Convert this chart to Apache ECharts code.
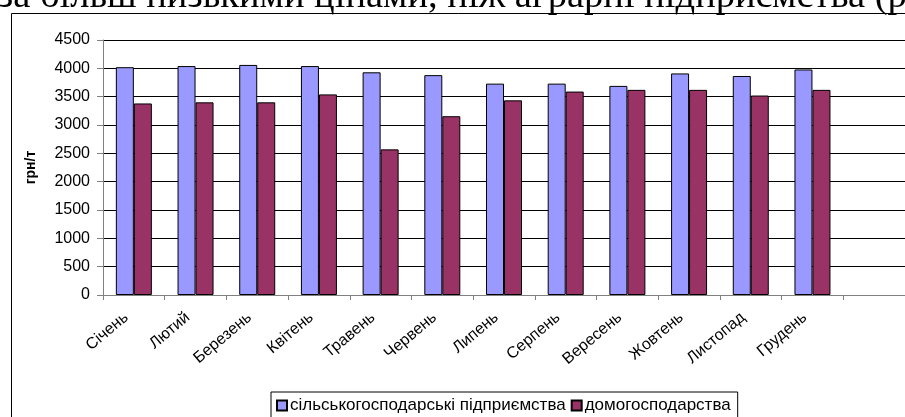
<!DOCTYPE html>
<html>
<head>
<meta charset="utf-8">
<script src="https://cdn.jsdelivr.net/npm/echarts@6/dist/echarts.min.js"></script>
<style>
  html, body { margin: 0; padding: 0; background: #fff; }
  #chart { width: 905px; height: 417px; }
</style>
</head>
<body>
<div id="chart"></div>
<script>
// Months (the trailing blank slot leaves an empty band at the right edge)
const months = ['Січень', 'Лютий', 'Березень', 'Квітень', 'Травень', 'Червень',
  'Липень', 'Серпень', 'Вересень', 'Жовтень', 'Листопад', 'Грудень', ''];

// Average selling price, UAH per tonne
const enterprisePrices = [4020, 4040, 4060, 4040, 3930, 3880, 3730, 3730, 3690, 3910, 3865, 3980];
const householdPrices  = [3380, 3400, 3400, 3540, 2570, 3155, 3435, 3590, 3620, 3620, 3520, 3620];

const seriesNames = ['сільськогосподарські підприємства', 'домогосподарства'];
const yTicks = { min: 0, max: 4500, step: 500 };
const yAxisName = 'грн/т';
const headingText = 'за більш низькими цінами, ніж аграрні підприємства (рис';

const chart = echarts.init(document.getElementById('chart'), null, { renderer: 'canvas' });

const labelFont = 'Arial, "Liberation Sans", sans-serif';

chart.setOption({
  animation: false,
  backgroundColor: '#fff',
  graphic: [
    {
      // line of body text above the chart frame, clipped by the page top
      type: 'text',
      x: -2,
      y: -3,
      silent: true,
      style: {
        text: headingText,
        font: '38.5px "Liberation Serif", "Times New Roman", serif',
        fill: '#000',
        verticalAlign: 'middle'
      }
    },
    {
      type: 'rect',
      silent: true,
      z: -1,
      shape: { x: 11.5, y: 13.5, width: 1000, height: 1000 },
      style: { fill: 'none', stroke: '#000', lineWidth: 1 }
    }
  ],
  grid: {
    left: 103,
    top: 40,
    width: 806.7,
    height: 255,
    containLabel: false
  },
  legend: {
    left: 271,
    top: 392,
    orient: 'horizontal',
    icon: 'rect',
    itemWidth: 10,
    itemHeight: 10,
    itemGap: 5,
    padding: [5, 7, 8, 5],
    borderColor: '#000',
    borderWidth: 1,
    backgroundColor: '#fff',
    textStyle: { fontFamily: labelFont, fontSize: 17, color: '#000', padding: [0, 0, 0, -2] },
    data: seriesNames
  },
  xAxis: {
    type: 'category',
    data: months,
    boundaryGap: true,
    axisLine: { lineStyle: { color: '#808080', width: 1 } },
    axisTick: { show: true, length: 5, lineStyle: { color: '#808080' } },
    axisLabel: {
      interval: 0,
      rotate: 40,
      margin: 14,
      padding: [0, 10, 0, 0],
      fontFamily: labelFont,
      fontSize: 16,
      color: '#000'
    },
    splitLine: { show: false }
  },
  yAxis: {
    type: 'value',
    min: yTicks.min,
    max: yTicks.max,
    interval: yTicks.step,
    name: yAxisName,
    nameLocation: 'middle',
    nameGap: 65,
    nameRotate: 90,
    nameTextStyle: { fontFamily: labelFont, fontSize: 14, fontWeight: 'bold', color: '#000' },
    axisLine: { show: true, lineStyle: { color: '#808080', width: 1 } },
    axisTick: { show: true, length: 6, lineStyle: { color: '#808080' } },
    axisLabel: {
      margin: 13,
      fontFamily: labelFont,
      fontSize: 16,
      color: '#000',
      formatter: (v) => String(v)
    },
    splitLine: { show: true, lineStyle: { color: '#000', width: 1 } }
  },
  series: [
    {
      name: seriesNames[0],
      type: 'bar',
      data: enterprisePrices,
      barWidth: 18,
      barGap: '0%',
      itemStyle: { color: '#9999FF', borderColor: '#000', borderWidth: 1 }
    },
    {
      name: seriesNames[1],
      type: 'bar',
      data: householdPrices,
      barWidth: 18,
      barGap: '0%',
      itemStyle: { color: '#993366', borderColor: '#000', borderWidth: 1 }
    }
  ]
});
</script>
</body>
</html>
